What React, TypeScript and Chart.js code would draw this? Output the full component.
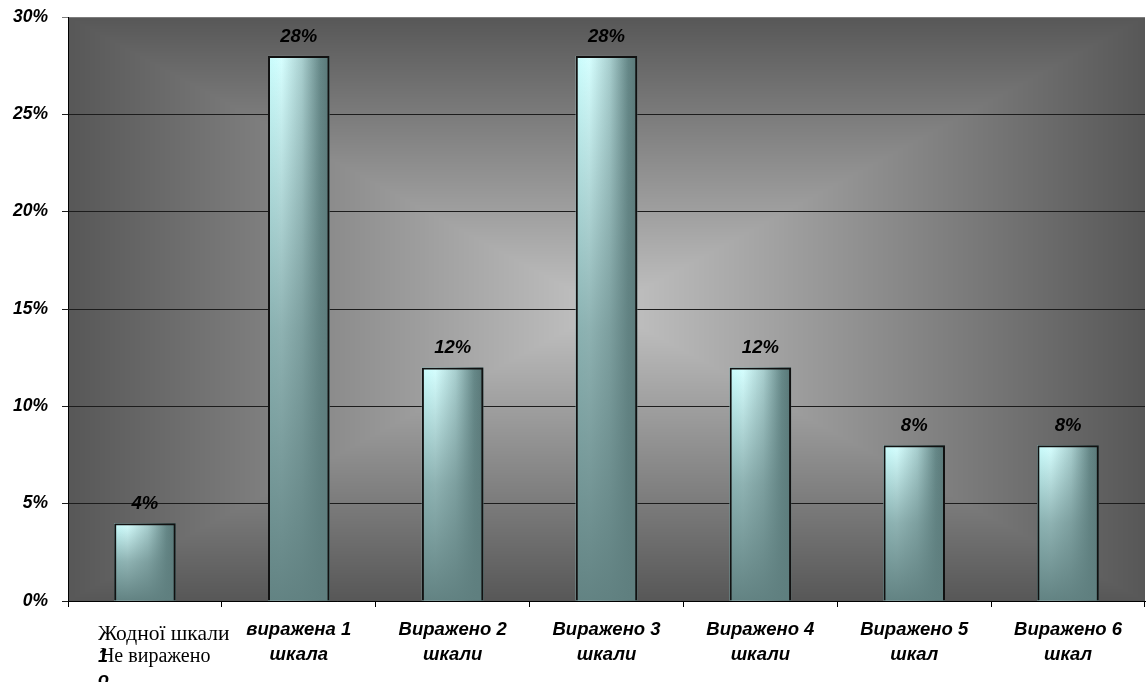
import { useEffect, useRef } from "react";
import { Chart, registerables } from "chart.js";

Chart.register(...registerables);

// Category captions, one entry per line of the axis label
const categoryLines: string[][] = [
  ["Жодної шкали", "Не виражено"],
  ["виражена 1", "шкала"],
  ["Виражено 2", "шкали"],
  ["Виражено 3", "шкали"],
  ["Виражено 4", "шкали"],
  ["Виражено 5", "шкал"],
  ["Виражено 6", "шкал"],
];

// Stray bold glyphs that spill under the first caption
const firstCaptionSpill = ["1", "о"];

// Share of respondents, %
const shares = [4, 28, 12, 28, 12, 8, 8];

// Value axis
const yMin = 0;
const yMax = 30;
const yStep = 5;

const SANS = "'Liberation Sans', Arial, sans-serif";
const SERIF = "'Liberation Serif', 'Times New Roman', serif";

// Rectangular "from centre" gradient behind the plot, rendered per pixel
const plotBackground = {
  id: "plotBackground",
  beforeDraw(chart: any) {
    const { ctx, chartArea } = chart;
    const left = Math.round(chartArea.left);
    const top = Math.round(chartArea.top);
    const w = Math.round(chartArea.right) - left;
    const h = Math.round(chartArea.bottom) - top;
    if (w <= 0 || h <= 0) return;
    const inner = 195;
    const outer = 87;
    const img = ctx.createImageData(w, h);
    const hw = w / 2;
    const hh = h / 2;
    for (let y = 0; y < h; y++) {
      const dy = Math.abs(y + 0.5 - hh) / hh;
      for (let x = 0; x < w; x++) {
        const dx = Math.abs(x + 0.5 - hw) / hw;
        const t = Math.min(1, Math.max(dx, dy));
        const c = Math.round(inner + (outer - inner) * t);
        const k = (y * w + x) * 4;
        img.data[k] = c;
        img.data[k + 1] = c;
        img.data[k + 2] = c;
        img.data[k + 3] = 255;
      }
    }
    ctx.putImageData(img, left, top);
  },
};

// Shaded fill of each bar (border is drawn by the bar element itself)
const barShading = {
  id: "barShading",
  beforeDatasetsDraw(chart: any) {
    const { ctx } = chart;
    const meta = chart.getDatasetMeta(0);
    ctx.save();
    meta.data.forEach((bar: any) => {
      const x0 = bar.x - bar.width / 2;
      const x1 = bar.x + bar.width / 2;
      const y0 = bar.y;
      const y1 = bar.base;
      const hg = ctx.createLinearGradient(x0, 0, x1, 0);
      hg.addColorStop(0, "#c8fcfc");
      hg.addColorStop(0.22, "#d6ffff");
      hg.addColorStop(0.55, "#a9cfcf");
      hg.addColorStop(0.85, "#668888");
      hg.addColorStop(1, "#587676");
      ctx.fillStyle = hg;
      ctx.fillRect(x0, y0, x1 - x0, y1 - y0);
      const vg = ctx.createLinearGradient(0, y0, 0, y1);
      vg.addColorStop(0, "rgba(95,127,127,0)");
      vg.addColorStop(0.5, "rgba(95,127,127,0.6)");
      vg.addColorStop(1, "rgba(95,127,127,0.97)");
      ctx.fillStyle = vg;
      ctx.fillRect(x0, y0, x1 - x0, y1 - y0);
    });
    ctx.restore();
  },
};

// Percentage above each bar
const valueLabels = {
  id: "valueLabels",
  afterDatasetsDraw(chart: any) {
    const { ctx } = chart;
    const meta = chart.getDatasetMeta(0);
    ctx.save();
    ctx.font = `italic bold 18.5px ${SANS}`;
    ctx.fillStyle = "#000";
    ctx.textAlign = "center";
    ctx.textBaseline = "alphabetic";
    meta.data.forEach((bar: any, i: number) => {
      ctx.fillText(`${shares[i]}%`, bar.x, bar.y - 14);
    });
    ctx.restore();
  },
};

// First category caption, set in a serif face with spilled glyphs
const firstCaption = {
  id: "firstCaption",
  afterDraw(chart: any) {
    const { ctx } = chart;
    const xs = chart.scales.x;
    const cx = xs.getPixelForValue(0);
    const left = cx - 47;
    const base = xs.top;
    ctx.save();
    ctx.fillStyle = "#000";
    ctx.textAlign = "left";
    ctx.textBaseline = "alphabetic";
    ctx.font = `21.5px ${SERIF}`;
    ctx.fillText(categoryLines[0][0], left, base + 39);
    ctx.font = `20px ${SERIF}`;
    ctx.fillText(categoryLines[0][1], left + 2, base + 61);
    ctx.font = `italic bold 18px ${SANS}`;
    ctx.fillText(firstCaptionSpill[0], left, base + 61);
    ctx.fillText(firstCaptionSpill[1], left, base + 84);
    ctx.restore();
  },
};

export default function App() {
  const canvasRef = useRef<HTMLCanvasElement | null>(null);

  useEffect(() => {
    const canvas = canvasRef.current;
    if (!canvas) return;
    const chart = new Chart(canvas, {
      type: "bar",
      data: {
        labels: categoryLines.map((l) => l.join(" ")),
        datasets: [
          {
            data: shares,
            backgroundColor: "rgba(0,0,0,0)",
            borderColor: "#111",
            borderWidth: 2,
            barPercentage: 0.4,
            categoryPercentage: 1,
          },
        ],
      },
      options: {
        animation: false,
        responsive: false,
        devicePixelRatio: 1,
        layout: { padding: { top: 17, right: 2, left: 0, bottom: 0 } },
        plugins: {
          legend: { display: false },
          tooltip: { enabled: false },
        },
        scales: {
          x: {
            offset: true,
            grid: {
              offset: true,
              drawOnChartArea: false,
              drawTicks: true,
              tickLength: 6,
              color: "#000",
            },
            border: { display: true, color: "#000", width: 1 },
            ticks: {
              autoSkip: false,
              maxRotation: 0,
              minRotation: 0,
              padding: 10,
              color: "#000",
              font: { family: SANS, size: 18.5, style: "italic", weight: "bold", lineHeight: 1.35 },
              callback: (_v: any, i: number) => (i === 0 ? "" : categoryLines[i]),
            },
            afterFit: (s: any) => {
              s.height = 81;
              s.paddingLeft = 0;
              s.paddingRight = 0;
            },
          },
          y: {
            min: yMin,
            max: yMax,
            grid: {
              drawOnChartArea: true,
              drawTicks: true,
              tickLength: 6,
              lineWidth: 1,
              color: (c: any) => (c.tick && c.tick.value === yMax ? "#7c7c7c" : "#1c1c1c"),
            },
            border: { display: true, color: "#000", width: 1 },
            ticks: {
              stepSize: yStep,
              padding: 14,
              color: "#000",
              font: { family: SANS, size: 17.5, style: "italic", weight: "bold" },
              callback: (v: any) => `${v}%`,
            },
            afterFit: (s: any) => {
              s.width = 68;
              s.paddingTop = 0;
              s.paddingBottom = 0;
            },
          },
        },
      },
      plugins: [plotBackground, barShading, valueLabels, firstCaption],
    });
    return () => chart.destroy();
  }, []);

  return (
    <div style={{ position: "fixed", left: 0, top: 0, width: 1147, height: 682, background: "#fff" }}>
      <canvas ref={canvasRef} width={1147} height={682} style={{ display: "block" }} />
    </div>
  );
}
